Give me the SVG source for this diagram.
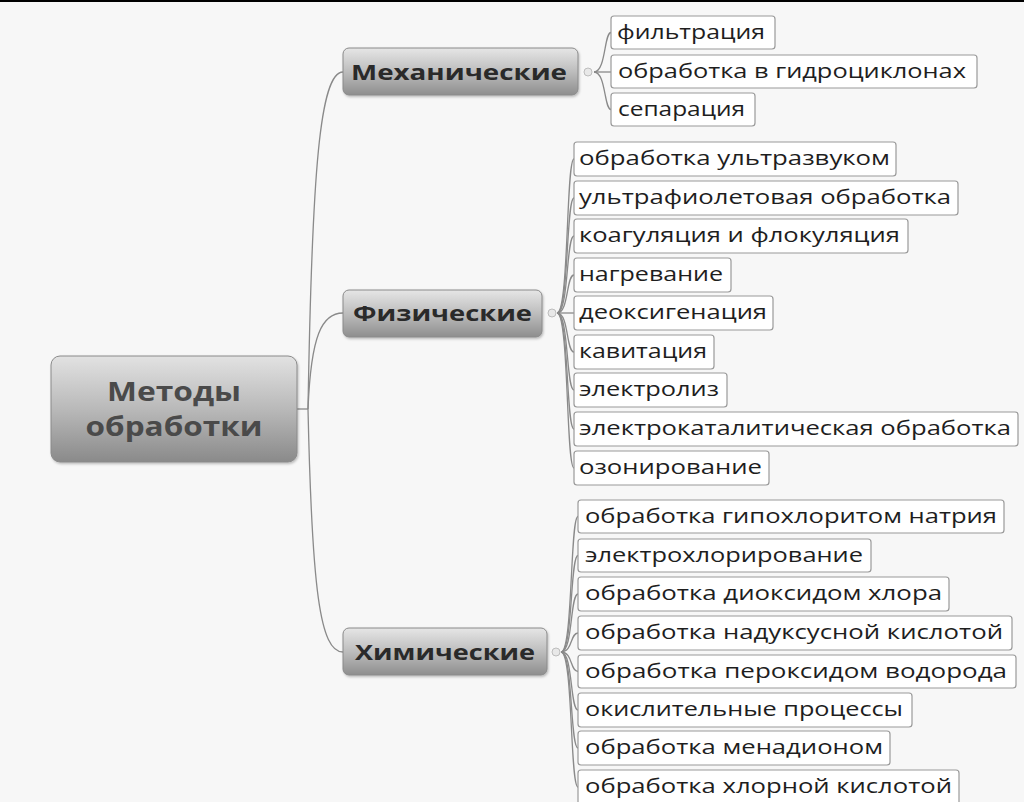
<svg xmlns="http://www.w3.org/2000/svg" width="1024" height="802" viewBox="0 0 1024 802">
<defs>
<linearGradient id="gRoot" x1="0" y1="0" x2="0" y2="1">
<stop offset="0" stop-color="#e2e2e2"/><stop offset="0.5" stop-color="#b9b9b9"/><stop offset="1" stop-color="#8a8a8a"/>
</linearGradient>
<linearGradient id="gBr" x1="0" y1="0" x2="0" y2="1">
<stop offset="0" stop-color="#e6e6e6"/><stop offset="0.5" stop-color="#bdbdbd"/><stop offset="1" stop-color="#8e8e8e"/>
</linearGradient>
<filter id="sh" x="-10%" y="-20%" width="120%" height="150%">
<feDropShadow dx="1" dy="1.5" stdDeviation="1" flood-color="#000" flood-opacity="0.25"/>
</filter>
</defs>
<style>
.bg{fill:#f7f7f7}
.conn{fill:none;stroke:#8a8a8a;stroke-width:1.3}
.dot{fill:#e8e8e8;stroke:#bdbdbd;stroke-width:1}
.root{fill:url(#gRoot);stroke:#8a8a8a;stroke-width:1}
.br{fill:url(#gBr);stroke:#8a8a8a;stroke-width:1}
.leaf{fill:#ffffff;stroke:#9a9a9a;stroke-width:1.2}
.tr{font-family:"Open Sans","DejaVu Sans",sans-serif;font-weight:bold;font-size:27px;fill:#4a4a4a;text-anchor:middle}
.tb{font-family:"Open Sans","DejaVu Sans",sans-serif;font-weight:bold;font-size:22px;fill:#2a2a2a}
.tl{font-family:"Open Sans","DejaVu Sans",sans-serif;font-size:20px;fill:#1e1e1e}
</style>
<rect class="bg" x="0" y="0" width="1024" height="802"/>
<rect x="0" y="0" width="1024" height="2" fill="#000"/>

<g id="connectors">
<path class="conn" d="M297,409 H308"/>
<path class="conn" d="M308,409 C312,170 320,72 343,72"/>
<path class="conn" d="M308,409 C311,335 322,313 343,313"/>
<path class="conn" d="M308,409 C312,590 320,652 343,652"/>
<path class="conn" d="M594,72 C606,72 604,32.5 611,32.5"/>
<path class="conn" d="M594,72 H611"/>
<path class="conn" d="M594,72 C606,72 604,109.5 611,109.5"/>
<path class="conn" d="M557,313 C569,313 566,159 574,159"/>
<path class="conn" d="M557,313 C569,313 566,198 574,198"/>
<path class="conn" d="M557,313 C569,313 566,236 574,236"/>
<path class="conn" d="M557,313 C569,313 566,275 574,275"/>
<path class="conn" d="M557,313 H574"/>
<path class="conn" d="M557,313 C569,313 566,352 574,352"/>
<path class="conn" d="M557,313 C569,313 566,390 574,390"/>
<path class="conn" d="M557,313 C569,313 566,429 574,429"/>
<path class="conn" d="M557,313 C569,313 566,468 574,468"/>
<path class="conn" d="M561,652 C573,652 570,516.5 578,516.5"/>
<path class="conn" d="M561,652 C573,652 570,555.5 578,555.5"/>
<path class="conn" d="M561,652 C573,652 570,594 578,594"/>
<path class="conn" d="M561,652 C573,652 570,633 578,633"/>
<path class="conn" d="M561,652 C573,652 570,671.5 578,671.5"/>
<path class="conn" d="M561,652 C573,652 570,710 578,710"/>
<path class="conn" d="M561,652 C573,652 570,748 578,748"/>
<path class="conn" d="M561,652 C573,652 570,787 578,787"/>
<circle class="dot" cx="588" cy="72" r="4"/>
<circle class="dot" cx="552" cy="313" r="4"/>
<circle class="dot" cx="556" cy="652" r="4"/>
</g>

<g id="root">
<rect class="root" x="51" y="356" width="246" height="106" rx="9" filter="url(#sh)"/>
<text class="tr" x="174" y="401" textLength="134" lengthAdjust="spacingAndGlyphs">Методы</text>
<text class="tr" x="174" y="436" textLength="177" lengthAdjust="spacingAndGlyphs">обработки</text>
</g>

<g id="mech">
<rect class="br" x="343" y="48" width="235" height="47" rx="6" filter="url(#sh)"/>
<text class="tb" x="351" y="80" textLength="216" lengthAdjust="spacingAndGlyphs">Механические</text>
</g>
<g id="phys">
<rect class="br" x="343" y="290" width="199" height="47" rx="6" filter="url(#sh)"/>
<text class="tb" x="353" y="321" textLength="179" lengthAdjust="spacingAndGlyphs">Физические</text>
</g>
<g id="chem">
<rect class="br" x="343" y="628" width="204" height="47" rx="6" filter="url(#sh)"/>
<text class="tb" x="355" y="660" textLength="180" lengthAdjust="spacingAndGlyphs">Химические</text>
</g>

<g id="m1"><rect class="leaf" x="611" y="16" width="164" height="33" rx="3"/><text class="tl" x="617" y="39" textLength="148" lengthAdjust="spacingAndGlyphs">фильтрация</text></g>
<g id="m2"><rect class="leaf" x="611" y="55" width="366" height="33" rx="3"/><text class="tl" x="618" y="78" textLength="348" lengthAdjust="spacingAndGlyphs">обработка в гидроциклонах</text></g>
<g id="m3"><rect class="leaf" x="611" y="93" width="144" height="33" rx="3"/><text class="tl" x="618" y="116" textLength="127" lengthAdjust="spacingAndGlyphs">сепарация</text></g>

<g id="p1"><rect class="leaf" x="574" y="142" width="322" height="34" rx="3"/><text class="tl" x="579" y="165" textLength="311" lengthAdjust="spacingAndGlyphs">обработка ультразвуком</text></g>
<g id="p2"><rect class="leaf" x="574" y="181" width="384" height="34" rx="3"/><text class="tl" x="579" y="204" textLength="372" lengthAdjust="spacingAndGlyphs">ультрафиолетовая обработка</text></g>
<g id="p3"><rect class="leaf" x="574" y="219" width="334" height="34" rx="3"/><text class="tl" x="579" y="242" textLength="321" lengthAdjust="spacingAndGlyphs">коагуляция и флокуляция</text></g>
<g id="p4"><rect class="leaf" x="574" y="258" width="157" height="34" rx="3"/><text class="tl" x="579" y="281" textLength="144" lengthAdjust="spacingAndGlyphs">нагревание</text></g>
<g id="p5"><rect class="leaf" x="574" y="296" width="199" height="34" rx="3"/><text class="tl" x="579" y="319" textLength="188" lengthAdjust="spacingAndGlyphs">деоксигенация</text></g>
<g id="p6"><rect class="leaf" x="574" y="335" width="140" height="34" rx="3"/><text class="tl" x="579" y="358" textLength="128" lengthAdjust="spacingAndGlyphs">кавитация</text></g>
<g id="p7"><rect class="leaf" x="574" y="373" width="153" height="34" rx="3"/><text class="tl" x="579" y="396" textLength="140" lengthAdjust="spacingAndGlyphs">электролиз</text></g>
<g id="p8"><rect class="leaf" x="574" y="412" width="444" height="34" rx="3"/><text class="tl" x="579" y="435" textLength="432" lengthAdjust="spacingAndGlyphs">электрокаталитическая обработка</text></g>
<g id="p9"><rect class="leaf" x="574" y="451" width="195" height="34" rx="3"/><text class="tl" x="579" y="474" textLength="183" lengthAdjust="spacingAndGlyphs">озонирование</text></g>

<g id="c1"><rect class="leaf" x="578" y="500" width="426" height="33" rx="3"/><text class="tl" x="585" y="523" textLength="412" lengthAdjust="spacingAndGlyphs">обработка гипохлоритом натрия</text></g>
<g id="c2"><rect class="leaf" x="578" y="539" width="293" height="33" rx="3"/><text class="tl" x="585" y="562" textLength="278" lengthAdjust="spacingAndGlyphs">электрохлорирование</text></g>
<g id="c3"><rect class="leaf" x="578" y="577" width="371" height="34" rx="3"/><text class="tl" x="585" y="600" textLength="357" lengthAdjust="spacingAndGlyphs">обработка диоксидом хлора</text></g>
<g id="c4"><rect class="leaf" x="578" y="616" width="434" height="34" rx="3"/><text class="tl" x="585" y="639" textLength="418" lengthAdjust="spacingAndGlyphs">обработка надуксусной кислотой</text></g>
<g id="c5"><rect class="leaf" x="578" y="655" width="438" height="33" rx="3"/><text class="tl" x="585" y="678" textLength="422" lengthAdjust="spacingAndGlyphs">обработка пероксидом водорода</text></g>
<g id="c6"><rect class="leaf" x="578" y="693" width="334" height="34" rx="3"/><text class="tl" x="585" y="716" textLength="318" lengthAdjust="spacingAndGlyphs">окислительные процессы</text></g>
<g id="c7"><rect class="leaf" x="578" y="731" width="312" height="34" rx="3"/><text class="tl" x="585" y="754" textLength="298" lengthAdjust="spacingAndGlyphs">обработка менадионом</text></g>
<g id="c8"><rect class="leaf" x="578" y="770" width="381" height="35" rx="3"/><text class="tl" x="585" y="793" textLength="367" lengthAdjust="spacingAndGlyphs">обработка хлорной кислотой</text></g>
</svg>
